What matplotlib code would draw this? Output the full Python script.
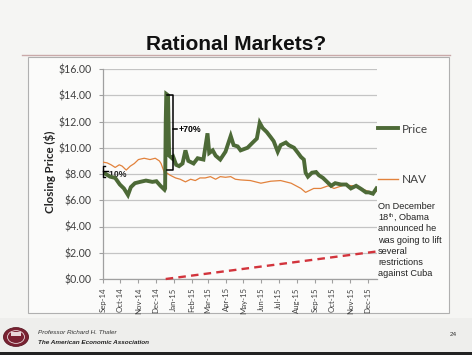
import numpy as np
import pandas as pd
import matplotlib
matplotlib.use("Agg")
import matplotlib.pyplot as plt
import matplotlib.dates as mdates
from matplotlib.patches import Rectangle, Circle
from matplotlib.lines import Line2D

price_dates = ["2014-09-01", "2014-09-06", "2014-09-13", "2014-09-22", "2014-09-30", "2014-10-07",
               "2014-10-14", "2014-10-19", "2014-10-26", "2014-11-04", "2014-11-14", "2014-11-25",
               "2014-12-02", "2014-12-09", "2014-12-16", "2014-12-17", "2014-12-18", "2014-12-19",
               "2014-12-22", "2014-12-23", "2014-12-24", "2014-12-29", "2014-12-31", "2015-01-05",
               "2015-01-10", "2015-01-16", "2015-01-21", "2015-01-26", "2015-02-04", "2015-02-11",
               "2015-02-21", "2015-02-28", "2015-03-03", "2015-03-09", "2015-03-14", "2015-03-22",
               "2015-03-31", "2015-04-09", "2015-04-14", "2015-04-21", "2015-04-26", "2015-05-08",
               "2015-05-17", "2015-05-24", "2015-05-29", "2015-06-03", "2015-06-10", "2015-06-17",
               "2015-06-22", "2015-06-29", "2015-07-04", "2015-07-13", "2015-07-18", "2015-07-27",
               "2015-08-03", "2015-08-08", "2015-08-13", "2015-08-16", "2015-08-20", "2015-08-27",
               "2015-09-03", "2015-09-08", "2015-09-15", "2015-09-22", "2015-09-29", "2015-10-06",
               "2015-10-16", "2015-10-25", "2015-11-02", "2015-11-11", "2015-11-20", "2015-11-28",
               "2015-12-03", "2015-12-10", "2015-12-16"]
price_values = [8.1, 8.0, 7.8, 7.7, 7.2, 6.9,
                6.4, 7.0, 7.3, 7.4, 7.5, 7.4,
                7.45, 7.1, 6.8, 6.9, 11.8, 14.1,
                14.0, 11.5, 9.4, 9.2, 9.3, 8.7,
                8.6, 8.8, 9.8, 9.0, 8.8, 9.2,
                9.1, 11.1, 9.6, 9.8, 9.4, 9.1,
                9.7, 10.9, 10.2, 10.1, 9.8, 10.0,
                10.4, 10.7, 11.9, 11.5, 11.2, 10.8,
                10.5, 9.7, 10.2, 10.4, 10.2, 10.0,
                9.6, 9.3, 9.1, 8.1, 7.8, 8.1,
                8.15, 7.9, 7.7, 7.4, 7.1, 7.3,
                7.2, 7.2, 6.9, 7.1, 6.85, 6.6,
                6.6, 6.5, 6.9]

nav_dates = ["2014-09-01", "2014-09-08", "2014-09-15", "2014-09-22", "2014-09-29", "2014-10-04",
             "2014-10-11", "2014-10-18", "2014-10-25", "2014-11-01", "2014-11-11", "2014-11-21",
             "2014-11-30", "2014-12-07", "2014-12-10", "2014-12-15", "2014-12-17", "2014-12-18",
             "2014-12-19", "2014-12-26", "2015-01-04", "2015-01-12", "2015-01-21", "2015-01-30",
             "2015-02-07", "2015-02-15", "2015-02-24", "2015-03-05", "2015-03-14", "2015-03-22",
             "2015-03-31", "2015-04-09", "2015-04-17", "2015-04-26", "2015-05-13", "2015-05-31",
             "2015-06-17", "2015-07-04", "2015-07-22", "2015-08-08", "2015-08-16", "2015-08-30",
             "2015-09-11", "2015-09-24", "2015-10-04", "2015-10-21", "2015-11-08", "2015-11-25",
             "2015-12-10", "2015-12-17"]
nav_values = [8.9, 8.85, 8.7, 8.5, 8.7, 8.6,
              8.3, 8.6, 8.8, 9.1, 9.2, 9.1,
              9.2, 9.0, 8.8, 8.2, 7.9, 8.3,
              8.1, 7.9, 7.7, 7.6, 7.4, 7.6,
              7.5, 7.7, 7.7, 7.8, 7.6, 7.8,
              7.75, 7.8, 7.6, 7.55, 7.5, 7.3,
              7.45, 7.5, 7.3, 6.9, 6.6, 6.9,
              6.9, 7.1, 6.9, 7.15, 7.1, 6.8,
              6.55, 6.7]

trend_dates = ["2014-12-18", "2015-12-17"]
trend_values = [0.0, 2.1]

x_start, x_end = "2014-09-01", "2015-12-17"
y_ticks = [0, 2, 4, 6, 8, 10, 12, 14, 16]

green = "#4d6a37"
orange = "#e2823c"
red = "#d2343c"
grid = "#c4c4c4"

W, H = 472, 355
fig = plt.figure(figsize=(W / 100, H / 100), dpi=100)
fig.patch.set_facecolor("#f5f5f3")


def fx(px):
    return px / W


def fy(py):
    return 1 - py / H


# slide decorations, kept under the axes
fig.add_artist(Rectangle((fx(28), fy(313)), fx(449) - fx(28), fy(57) - fy(313),
                         transform=fig.transFigure, facecolor="#fbfbfa", edgecolor="#b0b0b0",
                         lw=0.8, zorder=-10))
fig.add_artist(Line2D([fx(22), fx(450)], [fy(55), fy(55)], transform=fig.transFigure,
                      color="#c9a9a9", lw=1.0, zorder=-10))
fig.add_artist(Rectangle((0, fy(355)), 1, fy(318) - fy(355), transform=fig.transFigure,
                         facecolor="#eeeeec", edgecolor="none", zorder=-10))
fig.add_artist(Rectangle((0, 0), 1, fy(352), transform=fig.transFigure,
                         facecolor="#222222", edgecolor="none", zorder=-10))
fig.text(fx(236), fy(45), "Rational Markets?", ha="center", va="center",
         fontsize=15, fontweight="bold", family="Liberation Sans", color="#111111")

# footer
fig.add_artist(Circle((fx(16), fy(337)), 12.5 / W, transform=fig.transFigure,
                      facecolor="#7a2232", edgecolor="#5a1622", lw=0.6))
fig.add_artist(Circle((fx(16), fy(337)), 8.5 / W, transform=fig.transFigure,
                      facecolor="none", edgecolor="#e8d8da", lw=0.6))
fig.add_artist(Rectangle((fx(11), fy(336)), 10 / W, 4 / H, transform=fig.transFigure,
                         facecolor="#e8d8da", edgecolor="none"))
fig.text(fx(38), fy(333), "Professor Richard H. Thaler", ha="left", va="center",
         fontsize=4.6, style="italic", family="Liberation Sans", color="#333333")
fig.text(fx(38), fy(342), "The American Economic Association", ha="left", va="center",
         fontsize=4.6, style="italic", fontweight="bold", family="Liberation Sans", color="#222222")
fig.text(fx(453), fy(334), "24", ha="center", va="center", fontsize=4.6,
         family="Liberation Sans", color="#333333")

ax = fig.add_axes([fx(103), fy(279), fx(377) - fx(103), fy(69) - fy(279)])
ax.set_facecolor("none")

pd_price = pd.to_datetime(price_dates)
pd_nav = pd.to_datetime(nav_dates)
pd_trend = pd.to_datetime(trend_dates)

ax.plot(pd_nav, nav_values, color=orange, lw=0.9, label="NAV", zorder=3)
ax.plot(pd_price, price_values, color=green, lw=2.8, label="Price", zorder=4,
        solid_joinstyle="miter")
ax.plot(pd_trend, trend_values, color=red, lw=1.7, ls=(0, (3.2, 2.2)), zorder=5, clip_on=False)

ax.set_xlim(pd.Timestamp(x_start), pd.Timestamp(x_end))
ax.set_ylim(0, 16)
ax.set_yticks(y_ticks)
ax.set_yticklabels([f"${v:.2f}" for v in y_ticks])
ax.yaxis.grid(True, color=grid, lw=0.9)
ax.set_axisbelow(True)
ax.xaxis.set_major_locator(mdates.MonthLocator())
ax.xaxis.set_major_formatter(mdates.DateFormatter("%b-%y"))
for lab in ax.get_xticklabels():
    lab.set_rotation(90)
ax.tick_params(axis="x", length=3, width=0.8, color="#a0a0a0", pad=3,
               labelsize=5.6, labelcolor="#404040")
ax.tick_params(axis="y", length=3, width=0.8, color="#a0a0a0", pad=5,
               labelsize=7.6, labelcolor="#404040")
for lab in ax.get_xticklabels() + ax.get_yticklabels():
    lab.set_family("Lato")
for s in ["top", "right"]:
    ax.spines[s].set_visible(False)
for s in ["left", "bottom"]:
    ax.spines[s].set_color("#a0a0a0")
    ax.spines[s].set_linewidth(0.9)

fig.text(fx(50), fy(172), "Closing Price ($)", rotation=90, ha="center", va="center",
         fontsize=8.3, fontweight="bold", family="Lato", color="#222222")

# brackets
b70_top, b70_bot = 14.0, 8.3
d0, d1, d2 = pd.Timestamp("2014-12-21"), pd.Timestamp("2014-12-30"), pd.Timestamp("2015-01-07")
ax.plot([d0, d1, d1, d0], [b70_top, b70_top, b70_bot, b70_bot], color="black", lw=1.1, zorder=6)
ax.plot([d1, d2], [(b70_top + b70_bot) / 2 + 0.3] * 2, color="black", lw=1.1, zorder=6)
ax.text(pd.Timestamp("2015-01-09"), 11.4, "+70%", fontsize=6.3, fontweight="bold",
        family="Liberation Sans", va="center", ha="left", zorder=6)

b10_top, b10_bot = 8.6, 7.8
e0, e1, e2 = pd.Timestamp("2014-09-01"), pd.Timestamp("2014-09-04"), pd.Timestamp("2014-09-10")
ax.plot([e1, e0, e0, e1], [b10_top, b10_top, b10_bot, b10_bot], color="black", lw=1.0,
        zorder=6, clip_on=False)
ax.plot([e0, e2], [8.2, 8.2], color="black", lw=1.0, zorder=6, clip_on=False)
ax.text(pd.Timestamp("2014-09-08"), 7.95, "-10%", fontsize=6.3, fontweight="bold",
        family="Liberation Sans", va="center", ha="left", zorder=3.5, color="#222222")

handles = [Line2D([], [], color=green, lw=2.8), Line2D([], [], color=orange, lw=1.0)]
leg = ax.legend(handles, ["Price", "NAV"], loc="upper left", bbox_to_anchor=(1.003, 0.74),
                frameon=False, borderpad=0, borderaxespad=0, handlelength=1.75,
                handletextpad=0.25, labelspacing=3.35, prop={"family": "Lato", "size": 8.5})
for t in leg.get_texts():
    t.set_color("#404040")

# side note, drawn line by line so the superscript keeps normal kerning
note_lines = ["On December", None, "announced he", "was going to lift", "several",
              "restrictions", "against Cuba"]
note_kw = dict(ha="left", va="baseline", fontsize=6.6, family="Liberation Sans", color="#222222")
renderer = fig.canvas.get_renderer()
for i, line in enumerate(note_lines):
    base = fy(209 + i * 11.2)
    if line is not None:
        fig.text(fx(378), base, line, **note_kw)
    else:
        t1 = fig.text(fx(378), base, "18", **note_kw)
        w1 = t1.get_window_extent(renderer).width / W
        t2 = fig.text(fx(378) + w1 + 0.5 / W, base + 3.2 / H, "th",
                      **{**note_kw, "fontsize": 4.2})
        w2 = t2.get_window_extent(renderer).width / W
        fig.text(fx(378) + w1 + w2 + 0.8 / W, base, ", Obama", **note_kw)

fig.savefig("out.png", dpi=100, facecolor=fig.get_facecolor())
